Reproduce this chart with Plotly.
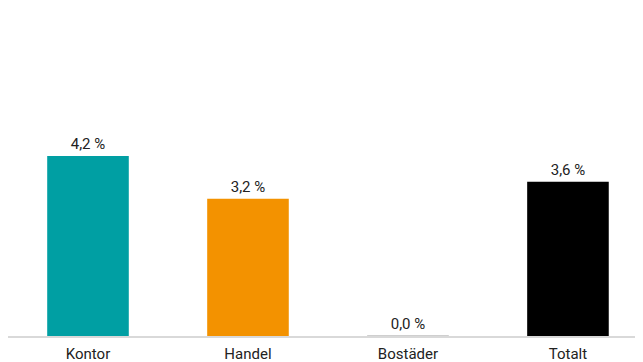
import plotly.graph_objects as go

categories = ["Kontor", "Handel", "Bostäder", "Totalt"]
values = [4.2, 3.2, 0.0, 3.6]
labels = ["4,2 %", "3,2 %", "0,0 %", "3,6 %"]
colors = ["#009FA3", "#F39200", "#BFBFBF", "#000000"]

fig = go.Figure(go.Bar(
    x=categories, y=values, text=labels, textposition="outside",
    marker=dict(color=colors, line=dict(color=colors, width=[0, 0, 1, 0])),
    textfont=dict(size=15, color="#222222", family="Roboto"),
    cliponaxis=False,
))
fig.update_layout(
    width=643, height=362,
    margin=dict(l=0, r=8, t=0, b=34),
    plot_bgcolor="white", paper_bgcolor="white",
    bargap=0.49, showlegend=False,
    font=dict(family="Roboto", size=15, color="#222222"),
    xaxis=dict(range=[-0.5, 3.469], showline=True, linecolor="#D9D9D9", linewidth=2,
               ticks="", showgrid=False, tickfont=dict(size=15), automargin=False,
               ticklabelstandoff=3),
    yaxis=dict(range=[0, 7.65], visible=False, showgrid=False, zeroline=False),
)
fig.write_html("out.html")
